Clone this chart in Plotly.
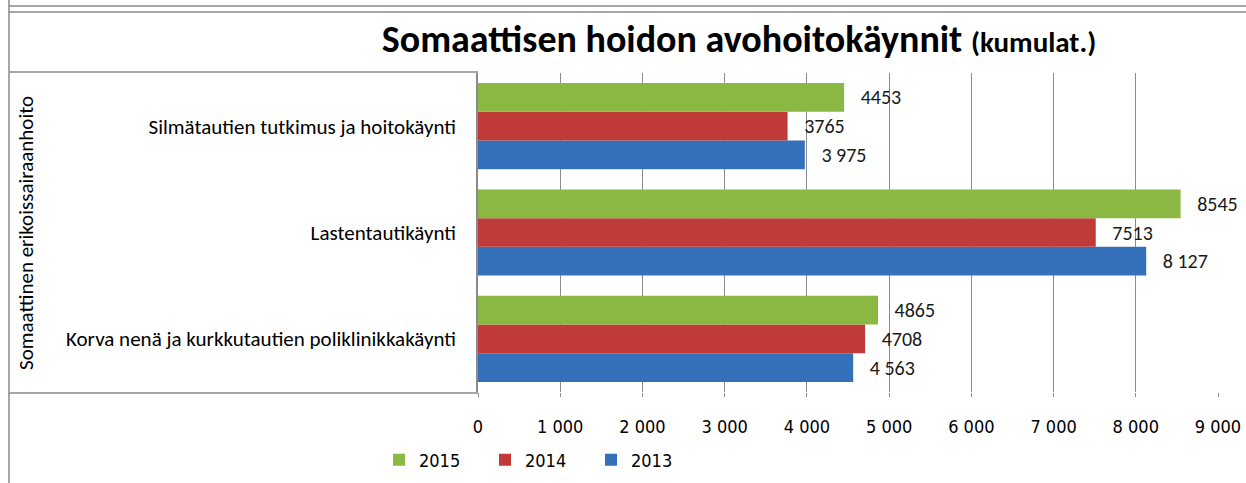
import plotly.graph_objects as go

# ---- data (bottom-to-top category order, as Plotly draws categorical y) ----
categories = [
    "Korva nenä ja kurkkutautien poliklinikkakäynti",
    "Lastentautikäynti",
    "Silmätautien tutkimus ja hoitokäynti",
]
years = ["2013", "2014", "2015"]
values_2013 = [4563, 8127, 3975]
values_2014 = [4708, 7513, 3765]
values_2015 = [4865, 8545, 4453]
labels_2013 = ["4 563", "8 127", "3 975"]
labels_2014 = ["4708", "7513", "3765"]
labels_2015 = ["4865", "8545", "4453"]
x_ticks = [0, 1000, 2000, 3000, 4000, 5000, 6000, 7000, 8000, 9000]
group_label = "Somaattinen erikoissairaanhoito"

W, H = 1246, 483
L, R, T, B = 478, 28, 73, 91
PW, PH = W - L - R, H - T - B

def px(x):
    return (x - L) / PW

def py(y):
    return (H - B - y) / PH

FONT = "Carlito, Lato, 'Open Sans', sans-serif"
NARROW = "'DejaVu Sans Condensed', 'Liberation Sans Narrow', sans-serif"
colors = {"2013": "#3571BA", "2014": "#C03A38", "2015": "#8BB743"}

fig = go.Figure()
for yr, vals, labs in [("2013", values_2013, labels_2013),
                       ("2014", values_2014, labels_2014),
                       ("2015", values_2015, labels_2015)]:
    fig.add_trace(go.Bar(
        y=categories, x=vals, name=yr, orientation="h",
        marker=dict(color=colors[yr], line=dict(width=0)),
        text=labs, texttemplate="\u00a0\u00a0\u00a0%{text}",
        textposition="outside", cliponaxis=False,
        textfont=dict(family=FONT, size=20, color="#1a1a1a"),
        hoverinfo="x+name",
    ))

line_col = "#8a8a8a"
def hline(x0, x1, y):
    return dict(type="line", xref="paper", yref="paper", x0=px(x0), x1=px(x1),
                y0=py(y), y1=py(y), line=dict(color=line_col, width=1.5))

shapes = [
    hline(9, 1246, 6),
    hline(9, 1246, 12),
    dict(type="line", xref="paper", yref="paper", x0=px(9), x1=px(9), y0=py(0), y1=py(483),
         line=dict(color=line_col, width=1.5)),
    hline(9, 478, 72),
    hline(9, 478, 393),
]

fig.update_layout(
    width=W, height=H,
    margin=dict(l=L, r=R, t=T, b=B, pad=0, autoexpand=False),
    paper_bgcolor="white", plot_bgcolor="white",
    separators=", ",
    barmode="group", bargap=0.19, bargroupgap=0,
    font=dict(family=FONT, size=16, color="#000000"),
    title=dict(
        text="<b>Somaattisen hoidon avohoitokäynnit <span style='font-size:29px'>(kumulat.)</span></b>",
        font=dict(family=FONT, size=38, color="#000000"),
        x=739 / W, xanchor="center", xref="container",
        y=1 - 39 / H, yanchor="middle", yref="container",
    ),
    xaxis=dict(
        range=[0, 9000], tickvals=x_ticks, tickformat=",d",
        showgrid=True, gridcolor="#8c8c8c", gridwidth=1,
        zeroline=False, showline=False,
        ticks="outside", ticklen=4, tickcolor="#8c8c8c",
        ticklabelstandoff=14,
        tickfont=dict(family=NARROW, size=18, color="#000000"),
    ),
    yaxis=dict(
        categoryorder="array", categoryarray=categories,
        showgrid=False, zeroline=False,
        showline=True, linecolor=line_col, linewidth=1.5,
        ticks="", ticklabelstandoff=16,
        tickfont=dict(family=FONT, size=21, color="#000000"),
    ),
    legend=dict(
        orientation="h", traceorder="reversed",
        x=px(379), xanchor="left", y=py(460), yanchor="middle",
        font=dict(family=NARROW, size=18, color="#000000"),
        itemwidth=30, entrywidth=61, entrywidthmode="pixels",
        bgcolor="rgba(0,0,0,0)",
    ),
    annotations=[dict(
        text=group_label, textangle=-90, showarrow=False,
        xref="paper", yref="paper", x=px(26), y=py(233),
        xanchor="center", yanchor="middle",
        font=dict(family=FONT, size=21, color="#000000"),
    )],
    shapes=shapes,
)

fig.write_html("out.html", config={"displayModeBar": False},
               post_script="document.body.style.margin='0px';")
